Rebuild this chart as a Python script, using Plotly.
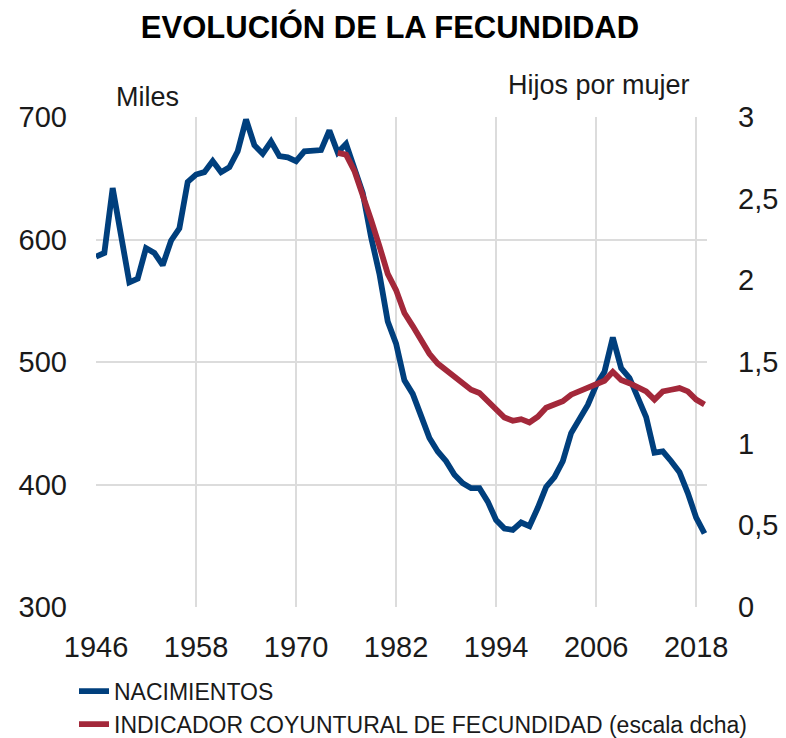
import plotly.graph_objects as go

years = list(range(1946, 2020))
nacimientos = [586, 589, 642, 602, 565, 568, 593, 589, 579, 599,
               609, 647, 653, 655, 664, 655, 659, 672, 698, 677,
               670, 680, 668, 667, 664, 672, 673, 673, 689, 671,
               678, 658, 638, 602, 572, 533, 515, 485, 474, 456,
               438, 427, 419, 408, 401, 397, 397, 386, 371, 364,
               363, 369, 366, 381, 398, 406, 419, 442, 453, 465,
               481, 492, 520, 495, 487, 472, 455, 426, 427, 419,
               410, 393, 373, 360]
icf_years = list(range(1975, 2020))
icf = [2.78, 2.77, 2.67, 2.53, 2.37, 2.21, 2.04, 1.94, 1.80, 1.72,
       1.64, 1.55, 1.49, 1.45, 1.40, 1.36, 1.33, 1.31, 1.26, 1.20,
       1.16, 1.14, 1.15, 1.13, 1.165, 1.22, 1.24, 1.26, 1.30, 1.32,
       1.34, 1.36, 1.385, 1.44, 1.39, 1.37, 1.345, 1.32, 1.27, 1.32,
       1.33, 1.34, 1.32, 1.27, 1.24]

x_ticks = [1946, 1958, 1970, 1982, 1994, 2006, 2018]
left_ticks = [300, 400, 500, 600, 700]
right_ticks = [0, 0.5, 1, 1.5, 2, 2.5, 3]
right_labels = ["0", "0,5", "1", "1,5", "2", "2,5", "3"]

BLUE = "#003F7D"
RED = "#A3283A"
TXT = "#1a1a1a"
GRID = "#dcdcdc"
FONT = "Liberation Sans, Arial, sans-serif"

fig = go.Figure()
fig.add_trace(go.Scatter(x=years, y=nacimientos, name="NACIMIENTOS",
                         mode="lines", line=dict(color=BLUE, width=5.8)))
fig.add_trace(go.Scatter(x=icf_years, y=icf, name="INDICADOR COYUNTURAL DE FECUNDIDAD (escala dcha)",
                         mode="lines", line=dict(color=RED, width=5.8), yaxis="y2"))

fig.update_layout(
    width=786, height=738,
    margin=dict(l=96, r=79, t=117, b=131, autoexpand=False),
    paper_bgcolor="white", plot_bgcolor="white",
    font=dict(family=FONT, color=TXT, size=29),
    title=dict(text="<b>EVOLUCIÓN DE LA FECUNDIDAD</b>", x=390 / 786, xanchor="center",
               xref="container", y=1 - 27 / 738, yanchor="middle", yref="container",
               font=dict(size=31, color="#000000", family=FONT)),
    xaxis=dict(range=[1946, 2019.3], tickvals=x_ticks, showgrid=True, gridcolor=GRID,
               gridwidth=1.5, zeroline=False, showline=False, ticks="", automargin=False,
               ticklabelstandoff=20, tickfont=dict(size=29)),
    yaxis=dict(range=[300, 700], tickvals=left_ticks, showgrid=True, gridcolor=GRID,
               gridwidth=1.5, zeroline=False, showline=False, ticks="", automargin=False,
               ticklabelstandoff=28, tickfont=dict(size=29)),
    yaxis2=dict(range=[0, 3], tickvals=right_ticks, ticktext=right_labels,
                overlaying="y", side="right", showgrid=False, zeroline=False, automargin=False,
                showline=False, ticks="", ticklabelstandoff=30, tickfont=dict(size=29)),
    legend=dict(x=-0.036, y=-0.128, xanchor="left", yanchor="top", orientation="v",
                font=dict(size=23, color=TXT), bgcolor="rgba(0,0,0,0)",
                tracegroupgap=0, itemwidth=30),
    showlegend=True,
    annotations=[
        dict(text="Miles", x=(147 - 96) / 611, y=(607 - 97) / 490, xref="paper", yref="paper",
             showarrow=False, xanchor="center", yanchor="middle", font=dict(size=27, color=TXT)),
        dict(text="Hijos por mujer", x=(599 - 96) / 611, y=(607 - 85) / 490, xref="paper",
             yref="paper", showarrow=False, xanchor="center", yanchor="middle",
             font=dict(size=27, color=TXT)),
    ],
)

fig.write_html("out.html", config={"displayModeBar": False},
               post_script="document.body.style.margin='0px';document.body.style.overflow='hidden';")
